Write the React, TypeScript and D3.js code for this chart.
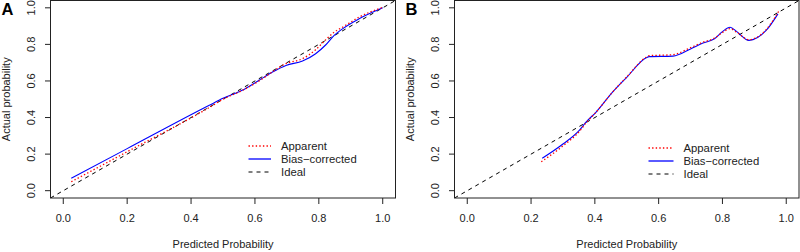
import React from "react";
import * as d3 from "d3";

const ticks = [0, 0.2, 0.4, 0.6, 0.8, 1.0];
const tickLabels = ["0.0", "0.2", "0.4", "0.6", "0.8", "1.0"];
const legendLabels = ["Apparent", "Bias\u2212corrected", "Ideal"];

// Panel A
const aApparentX = [0.025, 0.2, 0.457, 0.5, 0.56, 0.613, 0.655, 0.697, 0.749, 0.79, 0.822, 0.848, 0.874, 0.926, 1.0];
const aApparentY = [0.049, 0.213, 0.455, 0.5, 0.548, 0.6, 0.65, 0.695, 0.722, 0.771, 0.826, 0.867, 0.894, 0.949, 1.003];
const aBiasX = [0.025, 0.2, 0.457, 0.5, 0.56, 0.613, 0.655, 0.697, 0.749, 0.79, 0.822, 0.848, 0.874, 0.926, 1.0];
const aBiasY = [0.068, 0.23, 0.467, 0.505, 0.549, 0.604, 0.649, 0.685, 0.709, 0.749, 0.798, 0.849, 0.885, 0.94, 1.0];

// Panel B
const bApparentX = [0.232, 0.3, 0.352, 0.373, 0.404, 0.456, 0.5, 0.561, 0.57, 0.645, 0.7, 0.739, 0.775, 0.8, 0.824, 0.845, 0.883, 0.937, 0.976];
const bApparentY = [0.158, 0.245, 0.325, 0.372, 0.43, 0.54, 0.622, 0.73, 0.738, 0.744, 0.782, 0.812, 0.834, 0.865, 0.886, 0.866, 0.826, 0.88, 0.98];
const bBiasX = [0.235, 0.3, 0.352, 0.373, 0.404, 0.456, 0.5, 0.561, 0.57, 0.645, 0.7, 0.739, 0.775, 0.8, 0.824, 0.845, 0.883, 0.937, 0.974];
const bBiasY = [0.177, 0.255, 0.331, 0.376, 0.43, 0.54, 0.62, 0.727, 0.733, 0.736, 0.775, 0.807, 0.831, 0.87, 0.894, 0.87, 0.822, 0.876, 0.967];

const FONT = "'Liberation Sans', Arial, Helvetica, sans-serif";
const RED_DASH = "1.4,2.2";

type PanelProps = {
  id: string;
  letter: string;
  left: number;
  right: number;
  appX: number[];
  appY: number[];
  biasX: number[];
  biasY: number[];
  legX: number;
  legY: number;
  legLen: number;
};

function Panel(p: PanelProps) {
  const x = d3.scaleLinear().domain([-0.04, 1.04]).range([p.left, p.right]);
  const y = d3.scaleLinear().domain([-0.04, 1.04]).range([198, 0.5]);
  const line = d3
    .line<[number, number]>()
    .x((d) => x(d[0]))
    .y((d) => y(d[1]))
    .curve(d3.curveMonotoneX);
  const app = line(p.appX.map((v, i) => [v, p.appY[i]] as [number, number]));
  const bias = line(p.biasX.map((v, i) => [v, p.biasY[i]] as [number, number]));
  const ideal = line([[-0.04, -0.04], [1.04, 1.04]]);
  const clipId = "clip" + p.id;
  const rowGap = 13;
  return (
    <g>
      <defs>
        <clipPath id={clipId}>
          <rect x={p.left} y={0.5} width={p.right - p.left} height={197.5} />
        </clipPath>
      </defs>
      <g clipPath={`url(#${clipId})`}>
        <path d={ideal || ""} fill="none" stroke="#000" strokeWidth={1} strokeDasharray="4,4" />
        <path d={bias || ""} fill="none" stroke="#0000ff" strokeWidth={1.1} />
        <path d={app || ""} fill="none" stroke="#ff0000" strokeWidth={1.3} strokeDasharray={RED_DASH} />
      </g>
      <rect x={p.left} y={0.5} width={p.right - p.left} height={197.5} fill="none" stroke="#222" strokeWidth={1} />
      {ticks.map((t, i) => (
        <g key={"x" + i}>
          <line x1={x(t)} x2={x(t)} y1={198} y2={204} stroke="#222" />
          <text x={x(t)} y={222} textAnchor="middle" fontSize={11} fontFamily={FONT} fill="#222">
            {tickLabels[i]}
          </text>
        </g>
      ))}
      {ticks.map((t, i) => (
        <g key={"y" + i}>
          <line x1={p.left - 5.5} x2={p.left} y1={y(t)} y2={y(t)} stroke="#222" />
          <text
            transform={`translate(${p.left - 16},${y(t)}) rotate(-90)`}
            textAnchor="middle"
            fontSize={11}
            fontFamily={FONT}
            fill="#222"
          >
            {tickLabels[i]}
          </text>
        </g>
      ))}
      <text x={(p.left + p.right) / 2} y={248} textAnchor="middle" fontSize={11} fontFamily={FONT} fill="#222">
        Predicted Probability
      </text>
      <text
        transform={`translate(${p.left - 41},${y(0.5)}) rotate(-90)`}
        textAnchor="middle"
        fontSize={11}
        fontFamily={FONT}
        fill="#222"
      >
        Actual probability
      </text>
      <text x={p.left - 49} y={15} fontSize={16.5} fontWeight="bold" fontFamily={FONT} fill="#000">
        {p.letter}
      </text>
      {legendLabels.map((lab, i) => {
        const ly = p.legY + i * rowGap;
        const stroke = i === 0 ? "#ff0000" : i === 1 ? "#0000ff" : "#000";
        const dash = i === 0 ? RED_DASH : i === 2 ? "4,4" : undefined;
        return (
          <g key={"l" + i}>
            <line x1={p.legX} x2={p.legX + p.legLen} y1={ly} y2={ly} stroke={stroke} strokeWidth={i === 2 ? 1 : 1.3} strokeDasharray={dash} />
            <text x={p.legX + p.legLen + 10} y={ly + 4} fontSize={11.3} fontFamily={FONT} fill="#222">
              {lab}
            </text>
          </g>
        );
      })}
    </g>
  );
}

export default function App() {
  return (
    <svg
      width={800}
      height={252}
      style={{ position: "absolute", left: 0, top: 0, background: "#fff" }}
    >
      <rect x={0} y={0} width={800} height={252} fill="#fff" />
      <Panel
        id="A"
        letter="A"
        left={50.5}
        right={395.5}
        appX={aApparentX}
        appY={aApparentY}
        biasX={aBiasX}
        biasY={aBiasY}
        legX={248.5}
        legY={146}
        legLen={22.5}
      />
      <Panel
        id="B"
        letter="B"
        left={454.5}
        right={799}
        appX={bApparentX}
        appY={bApparentY}
        biasX={bBiasX}
        biasY={bBiasY}
        legX={648.5}
        legY={148}
        legLen={25}
      />
    </svg>
  );
}
